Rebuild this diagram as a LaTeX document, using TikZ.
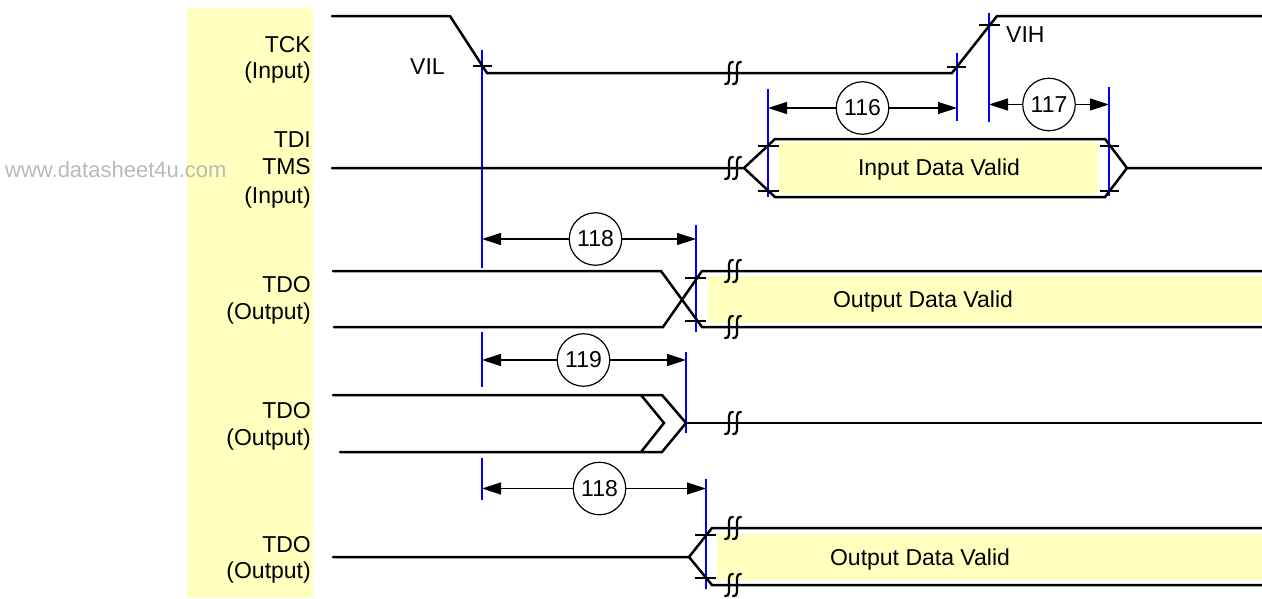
\documentclass[tikz,border=0pt]{standalone}
\usepackage{fontspec}
\setmainfont{Liberation Sans}
\usetikzlibrary{arrows.meta}
\definecolor{bandyel}{RGB}{255,255,190}
\definecolor{markblue}{RGB}{0,0,255}
\definecolor{wmgray}{RGB}{185,185,185}
\tikzset{
  wave/.style={line width=2.5pt, line join=miter, line cap=round},
  bluemark/.style={draw=markblue, line width=2pt},
  tickmark/.style={line width=2pt},
  dimarrow/.style={line width=1.3pt, -{Triangle[length=19pt,width=12pt]}},
  numcirc/.style={circle, draw, line width=1.2pt, minimum size=52.5pt, inner sep=0pt, fill=white, font=\fontsize{23}{27}\selectfont},
  lbl/.style={anchor=base east, inner sep=0pt, font=\fontsize{23}{27}\selectfont},
  txt/.style={inner sep=0pt, font=\fontsize{23}{27}\selectfont},
  brk/.pic={
    \draw[line width=2.2pt, line cap=round] (0,-11) .. controls (-5,-12) and (-4,-5) .. (-4,0) .. controls (-4,5) and (-3,12) .. (-8,11);
    \draw[line width=2.2pt, line cap=round] (8,-11) .. controls (3,-12) and (4,-5) .. (4,0) .. controls (4,5) and (5,12) .. (0,11);
  }
}
\begin{document}
\begin{tikzpicture}[x=1pt, y=-1pt]
\useasboundingbox (0,0) rectangle (1262,598);
% label band
\fill[bandyel] (187,8) rectangle (313,598);
\node[anchor=base west, inner sep=0pt, text=wmgray, font=\fontsize{22}{26}\selectfont] (wm) at (5,177) {www.datasheet4u.com};
% data valid fills
\fill[bandyel] (779,142) rectangle (1098,194);
\fill[bandyel] (708,276) rectangle (1262,323);
\fill[bandyel] (717,534) rectangle (1262,580);
% blue reference lines
\draw[bluemark] (482,50) -- (482,268);
\draw[bluemark] (482,332) -- (482,387);
\draw[bluemark] (482,458) -- (482,500);
\draw[bluemark] (957,53) -- (957,121);
\draw[bluemark] (989,13) -- (989,122);
\draw[bluemark] (768,89) -- (768,197);
\draw[bluemark] (1109,87) -- (1109,196);
\draw[bluemark] (696,225) -- (696,332);
\draw[bluemark] (686,352) -- (686,433);
\draw[bluemark] (706,479) -- (706,589);
% TCK
\draw[wave] (332,16) -- (450,16) -- (487,73) -- (952,73) -- (997,16) -- (1262,16);
\pic at (733,73) {brk};
\draw[tickmark] (473,66) -- (492,66);
\draw[tickmark] (947,67) -- (966,67);
\draw[tickmark] (979,25) -- (1000,25);
% TDI / TMS
\draw[wave] (332,168) -- (744,168) -- (775,139) -- (1105,139) -- (1127,168) -- (1262,168);
\draw[wave] (744,168) -- (775,197) -- (1105,197) -- (1127,168);
\pic at (733,168) {brk};
\draw[tickmark] (758,146) -- (779,146);
\draw[tickmark] (758,191) -- (779,191);
\draw[tickmark] (1100,146) -- (1119,146);
\draw[tickmark] (1100,191) -- (1119,191);
% TDO 1
\draw[wave] (333,271) -- (661,271) -- (702,327) -- (1262,327);
\draw[wave] (334,327) -- (663,327) -- (702,271) -- (1262,271);
\pic at (733,271) {brk};
\pic at (733,327) {brk};
\draw[tickmark] (685,278) -- (706,278);
\draw[tickmark] (685,321) -- (706,321);
% TDO 2
\draw[wave] (333,395) -- (662,395) -- (686,423) -- (662,452) -- (340,452);
\draw[wave] (641,395) -- (664,423) -- (641,452);
\draw[wave] (686,423) -- (1262,423);
\pic at (733,423) {brk};
% TDO 3
\draw[wave] (333,557) -- (689,557) -- (712,528) -- (1262,528);
\draw[wave] (689,557) -- (712,585) -- (1262,585);
\pic at (733,528) {brk};
\pic at (733,585) {brk};
\draw[tickmark] (695,535) -- (716,535);
\draw[tickmark] (695,578) -- (716,578);
% dimension circles and arrows
\coordinate (a116l) at (768,108);
\coordinate (a116r) at (957,108);
\node[numcirc] (c116) at (862.5,108) {116};
\draw[dimarrow] (c116) -- (a116l);
\draw[dimarrow] (c116) -- (a116r);
\coordinate (a117l) at (989,104.5);
\coordinate (a117r) at (1109,104.5);
\node[numcirc] (c117) at (1049,104.5) {117};
\draw[dimarrow] (c117) -- (a117l);
\draw[dimarrow] (c117) -- (a117r);
\coordinate (a118l) at (482,239);
\coordinate (a118r) at (696,239);
\node[numcirc] (c118) at (595.5,239) {118};
\draw[dimarrow] (c118) -- (a118l);
\draw[dimarrow] (c118) -- (a118r);
\coordinate (a119l) at (482,360);
\coordinate (a119r) at (686,360);
\node[numcirc] (c119) at (583.5,360) {119};
\draw[dimarrow] (c119) -- (a119l);
\draw[dimarrow] (c119) -- (a119r);
\coordinate (b118l) at (482,488.5);
\coordinate (b118r) at (706,488.5);
\node[numcirc] (d118) at (599.5,488.5) {118};
\draw[dimarrow] (d118) -- (b118l);
\draw[dimarrow] (d118) -- (b118r);
% signal names
\node[lbl] (tck) at (311,52) {TCK};
\node[lbl] (tckin) at (311,78.5) {(Input)};
\node[lbl] (tdi) at (311,147) {TDI};
\node[lbl] (tms) at (311,174) {TMS};
\node[lbl] (tdiin) at (311,203) {(Input)};
\node[lbl] (tdo1) at (311,292) {TDO};
\node[lbl] (tdo1o) at (311,319) {(Output)};
\node[lbl] (tdo2) at (311,418.5) {TDO};
\node[lbl] (tdo2o) at (311,445) {(Output)};
\node[lbl] (tdo3) at (311,552) {TDO};
\node[lbl] (tdo3o) at (311,578) {(Output)};
% level labels
\node[txt, anchor=base west] (vil) at (410,74) {VIL};
\node[txt, anchor=base west] (vih) at (1006,42) {VIH};
% data labels
\node[txt, anchor=base] (idv) at (939,175) {Input Data Valid};
\node[txt, anchor=base] (odv1) at (923,307.5) {Output Data Valid};
\node[txt, anchor=base] (odv2) at (920,565) {Output Data Valid};
\end{tikzpicture}
\end{document}
